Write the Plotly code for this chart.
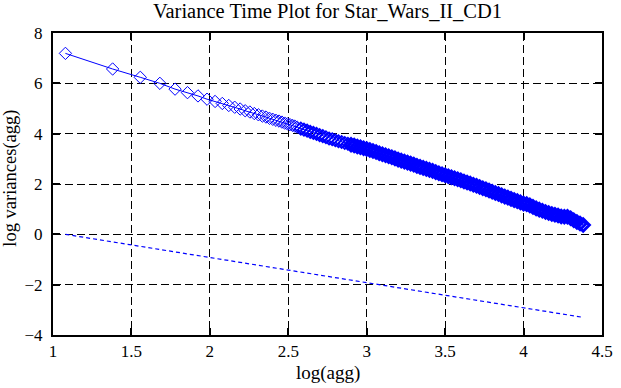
import numpy as np
import plotly.graph_objects as go

# --- data ---
# individually visible aggregation levels (agg = 12, 24, ..., 360)
agg_low = [12, 24, 36, 48, 60, 72, 84, 96, 108, 120,
           132, 144, 156, 168, 180, 192, 204, 216, 228, 240,
           252, 264, 276, 288, 300, 312, 324, 336, 348, 360]
logvar_low = [7.19, 6.57, 6.24, 6.00, 5.77, 5.63, 5.50, 5.37, 5.28, 5.20,
              5.12, 5.05, 4.98, 4.91, 4.86, 4.80, 4.75, 4.70, 4.66, 4.61,
              4.57, 4.53, 4.50, 4.46, 4.42, 4.39, 4.36, 4.33, 4.30, 4.26]

# dense part of the curve (log10 of aggregation level) read along the band
logagg_high = [2.58, 2.60, 2.62, 2.64, 2.66, 2.68, 2.70, 2.72, 2.74, 2.76,
               2.78, 2.80, 2.82, 2.84, 2.86, 2.88, 2.90, 2.92, 2.94, 2.96,
               2.98, 3.00, 3.02, 3.04, 3.06, 3.08, 3.10, 3.12, 3.14, 3.16,
               3.18, 3.20, 3.22, 3.24, 3.26, 3.28, 3.30, 3.32, 3.34, 3.36,
               3.38, 3.40, 3.42, 3.44, 3.46, 3.48, 3.50, 3.52, 3.54, 3.56,
               3.58, 3.60, 3.62, 3.64, 3.66, 3.68, 3.70, 3.72, 3.74, 3.76,
               3.78, 3.80, 3.82, 3.84, 3.86, 3.88, 3.90, 3.92, 3.94, 3.96,
               3.98, 4.00, 4.02, 4.04, 4.06, 4.08, 4.10, 4.12, 4.14, 4.16,
               4.18, 4.20, 4.22, 4.24, 4.26, 4.28, 4.30, 4.32, 4.34, 4.36,
               4.38]
logvar_high = [4.20, 4.16, 4.12, 4.07, 4.03, 3.99, 3.94, 3.90, 3.86, 3.81,
               3.78, 3.74, 3.70, 3.67, 3.63, 3.60, 3.56, 3.53, 3.49, 3.46,
               3.42, 3.39, 3.35, 3.31, 3.27, 3.22, 3.18, 3.14, 3.10, 3.06,
               3.02, 2.97, 2.93, 2.89, 2.85, 2.81, 2.77, 2.72, 2.68, 2.64,
               2.60, 2.56, 2.52, 2.47, 2.43, 2.39, 2.35, 2.31, 2.27, 2.23,
               2.19, 2.15, 2.10, 2.06, 2.02, 1.97, 1.93, 1.88, 1.83, 1.79,
               1.74, 1.69, 1.64, 1.60, 1.55, 1.50, 1.46, 1.41, 1.36, 1.32,
               1.27, 1.22, 1.20, 1.15, 1.09, 1.03, 0.98, 0.94, 0.89, 0.85,
               0.81, 0.78, 0.75, 0.71, 0.70, 0.70, 0.64, 0.56, 0.49, 0.43,
               0.37]

# reference line (slope -1) end points
ref_x = [1.079, 4.38]
ref_y = [0.0, -3.30]

x_tick_vals = [1, 1.5, 2, 2.5, 3, 3.5, 4, 4.5]
x_tick_text = ["1", "1.5", "2", "2.5", "3", "3.5", "4", "4.5"]
y_tick_vals = [-4, -2, 0, 2, 4, 6, 8]
y_tick_text = ["\u22124", "\u22122", "0", "2", "4", "6", "8"]

BLUE = "#0000ff"
FONT = "Liberation Serif"

x_all = list(np.log10(agg_low)) + logagg_high
y_all = logvar_low + logvar_high
line_w = ([1.0] * len(agg_low)
          + [1.6 if v < 2.9 else 3.0 for v in logagg_high])

fig = go.Figure()
fig.add_trace(go.Scatter(
    x=x_all, y=y_all, mode="lines+markers",
    line=dict(color=BLUE, width=1),
    marker=dict(symbol="diamond-open", size=9.5, color=BLUE,
                line=dict(color=BLUE, width=line_w)),
    showlegend=False))
fig.add_trace(go.Scatter(
    x=ref_x, y=ref_y, mode="lines",
    line=dict(color=BLUE, width=1.2, dash="4px,3px"),
    showlegend=False))

axis_common = dict(
    showline=True, linecolor="black", linewidth=2, mirror="allticks",
    ticks="inside", ticklen=7, tickwidth=1.5, tickcolor="black",
    showgrid=True, gridcolor="black", gridwidth=1, griddash="8px,4px",
    zeroline=False, automargin=False,
    tickfont=dict(family=FONT, size=17, color="black"),
)

fig.update_layout(
    template="none",
    width=621, height=388,
    margin=dict(l=53, r=19, t=33, b=53, autoexpand=False),
    paper_bgcolor="white", plot_bgcolor="white",
    font=dict(family=FONT, color="black", size=17),
    title=dict(text="Variance Time Plot for Star_Wars_II_CD1",
               x=0.5, xref="paper", y=0.972, yref="container",
               yanchor="middle", font=dict(family=FONT, size=20.5, color="black")),
    xaxis=dict(range=[1, 4.5], tickvals=x_tick_vals, ticktext=x_tick_text,
               ticklabelstandoff=0, **axis_common),
    yaxis=dict(range=[-4, 8], tickvals=y_tick_vals, ticktext=y_tick_text,
               ticklabelstandoff=5, **axis_common),
    annotations=[
        dict(text="log(agg)", xref="paper", yref="paper", x=0.5, y=-0.126,
             xanchor="center", yanchor="middle", showarrow=False,
             font=dict(family=FONT, size=19, color="black")),
        dict(text="log variances(agg)", xref="paper", yref="paper",
             x=-0.077, y=0.52, xanchor="center", yanchor="middle",
             textangle=-90, showarrow=False,
             font=dict(family=FONT, size=18.5, color="black")),
    ],
)

fig.write_html("out.html",
               config={"displayModeBar": False},
               post_script="document.body.style.margin='0';document.body.style.overflow='hidden';")
